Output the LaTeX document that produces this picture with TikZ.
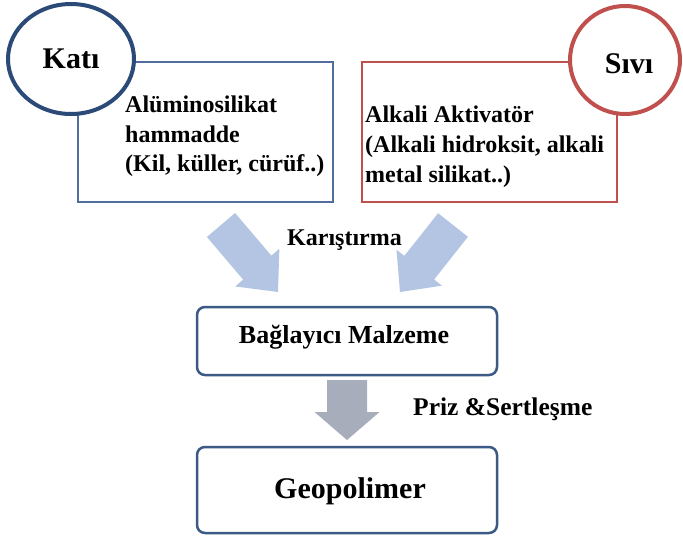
\documentclass[tikz,border=0pt]{standalone}
\usepackage{fontspec}
\setmainfont{Liberation Serif}
\usetikzlibrary{calc}
\definecolor{boxblue}{HTML}{4F6E9E}
\definecolor{circblue}{HTML}{2B4A78}
\definecolor{boxred}{HTML}{C0504D}
\definecolor{arrblue}{HTML}{B3C5E2}
\definecolor{arrgray}{HTML}{A7ADBA}
\definecolor{roundblue}{HTML}{3B5A85}
\tikzset{
  txt/.style={font=\bfseries\fontsize{24}{29}\selectfont, inner sep=0pt, anchor=base west},
  bigtxt/.style={font=\bfseries\fontsize{30}{36}\selectfont, inner sep=0pt, anchor=base},
  midtxt/.style={font=\bfseries\fontsize{24}{29}\selectfont, inner sep=0pt, anchor=base},
  sqbox/.style={line width=2pt},
  rbox/.style={draw=roundblue, line width=2.5pt, rounded corners=8pt},
  circ/.style={line width=4pt, fill=white}
}
\newcommand{\blockarr}[6]{% tail, tip, shaft half, head half, head length, colour
  \coordinate (hb) at ($(#2)!#5!(#1)$);
  \fill[#6] ($(#1)!#3!90:(#2)$) -- ($(hb)!#3!-90:(#1)$) -- ($(hb)!#4!-90:(#1)$)
    -- (#2) -- ($(hb)!#4!90:(#1)$) -- ($(hb)!#3!90:(#1)$) -- ($(#1)!#3!-90:(#2)$) -- cycle;
}
\begin{document}
\begin{tikzpicture}[x=1pt,y=-1pt]
\fill[white] (0,0) rectangle (683,536);
\useasboundingbox (0,0) rectangle (683,536);
% boxes
\draw[sqbox, draw=boxblue] (78,62) rectangle (333,202);
\draw[sqbox, draw=boxred] (362,62) rectangle (617,202);
% circles
\draw[circ, draw=circblue] (71,59) ellipse [x radius=63, y radius=55];
\draw[circ, draw=boxred] (625,60) ellipse [x radius=55, y radius=54];
\node[bigtxt] (kati) at (71,68) {Katı};
\node[bigtxt] (sivi) at (629,73) {Sıvı};
% left text
\node[txt] (l1) at (125,112) {Alüminosilikat};
\node[txt] (l2) at (125,142) {hammadde};
\node[txt] (l3) at (125,171) {(Kil, küller, cürüf..)};
% right text
\node[txt] (r1) at (365,122) {Alkali Aktivatör};
\node[txt] (r2) at (365,152) {(Alkali hidroksit, alkali};
\node[txt] (r3) at (365,182) {metal silikat..)};
% arrows
\coordinate (lt) at (221,225);
\coordinate (lp) at (278,292);
\coordinate (rt) at (453,225);
\coordinate (rp) at (400,292);
\coordinate (dt) at (347,380);
\coordinate (dp) at (347,440);
\blockarr{lt}{lp}{18.5pt}{29pt}{32pt}{arrblue}
\blockarr{rt}{rp}{19pt}{29pt}{31pt}{arrblue}
\blockarr{dt}{dp}{20pt}{32.5pt}{28pt}{arrgray}
\node[midtxt] (mix) at (344.5,245) {Karıştırma};
% middle boxes
\draw[rbox] (197,307) rectangle (497,375);
\node[midtxt, font=\bfseries\fontsize{26}{30}\selectfont] (bag) at (344,343) {Bağlayıcı Malzeme};
\node[txt, font=\bfseries\fontsize{25.5}{30}\selectfont] (priz) at (413,415) {Priz \&Sertleşme};
\draw[rbox] (197,447) rectangle (497,533);
\node[bigtxt] (geo) at (350,498) {Geopolimer};
\end{tikzpicture}
\end{document}
